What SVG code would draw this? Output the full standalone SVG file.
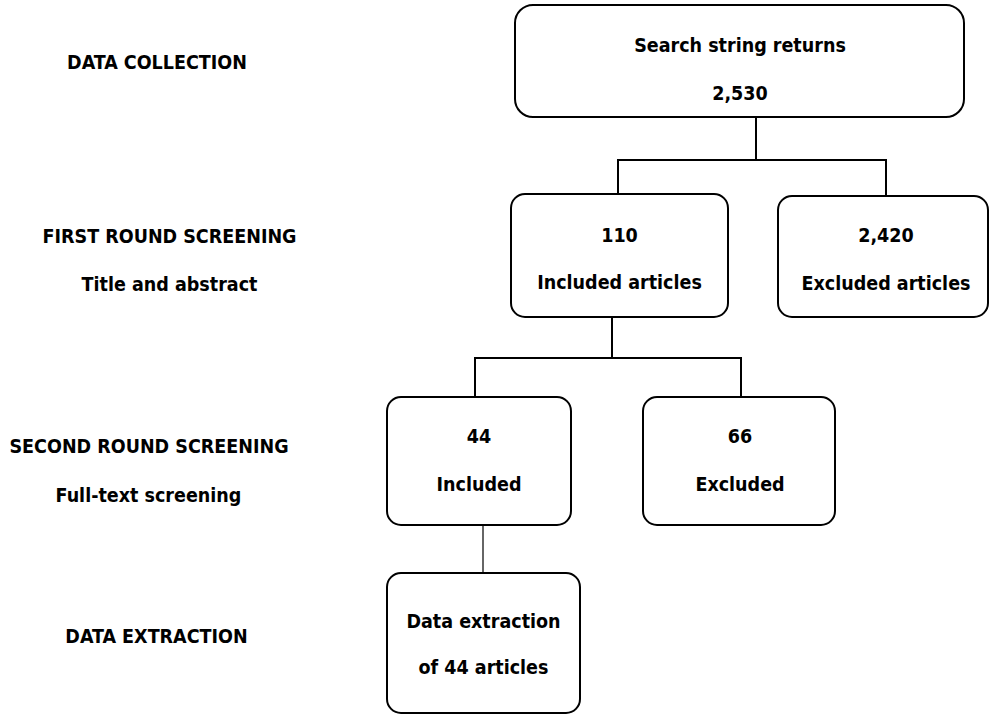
<svg xmlns="http://www.w3.org/2000/svg" width="990" height="715" viewBox="0 0 990 715">
<style>
.box{fill:#fff;stroke:#000;stroke-width:2}
.t{font-family:"DejaVu Sans Condensed","DejaVu Sans",sans-serif;font-stretch:condensed;font-weight:bold;font-size:19.5px;fill:#000;text-anchor:middle}
.c{fill:none;stroke:#000;stroke-width:2}
</style>
<rect width="990" height="715" fill="#fff"/>
<g id="labels">
<text class="t" x="157" y="69">DATA COLLECTION</text>
<text class="t" x="169.5" y="243">FIRST ROUND SCREENING</text>
<text class="t" x="169.5" y="291">Title and abstract</text>
<text class="t" x="149" y="453">SECOND ROUND SCREENING</text>
<text class="t" x="148.5" y="502">Full-text screening</text>
<text class="t" x="156.5" y="643">DATA EXTRACTION</text>
</g>
<g id="connectors">
<path class="c" d="M756 117 V160 M617 160 H887 M618 160 V194 M886 160 V196"/>
<path class="c" d="M612 317 V358 M474 358 H742 M475 358 V397 M741 358 V397"/>
<path d="M483 525 V577" fill="none" stroke="#666" stroke-width="2"/>
</g>
<g id="n-search">
<rect class="box" x="515" y="5" width="449" height="112" rx="18"/>
<text class="t" x="740" y="52">Search string returns</text>
<text class="t" x="740" y="100">2,530</text>
</g>
<g id="n-included1">
<rect class="box" x="511" y="194" width="217" height="123" rx="14"/>
<text class="t" x="619.5" y="242">110</text>
<text class="t" x="619.5" y="289">Included articles</text>
</g>
<g id="n-excluded1">
<rect class="box" x="778" y="196" width="210" height="121" rx="14"/>
<text class="t" x="886" y="242">2,420</text>
<text class="t" x="886" y="290">Excluded articles</text>
</g>
<g id="n-included2">
<rect class="box" x="387" y="397" width="184" height="128" rx="14"/>
<text class="t" x="479" y="443">44</text>
<text class="t" x="479" y="491">Included</text>
</g>
<g id="n-excluded2">
<rect class="box" x="643" y="397" width="192" height="128" rx="14"/>
<text class="t" x="740" y="443">66</text>
<text class="t" x="740" y="491">Excluded</text>
</g>
<g id="n-extraction">
<rect class="box" x="387" y="573" width="193" height="140" rx="14"/>
<text class="t" x="483.5" y="628">Data extraction</text>
<text class="t" x="483.5" y="674">of 44 articles</text>
</g>
</svg>
